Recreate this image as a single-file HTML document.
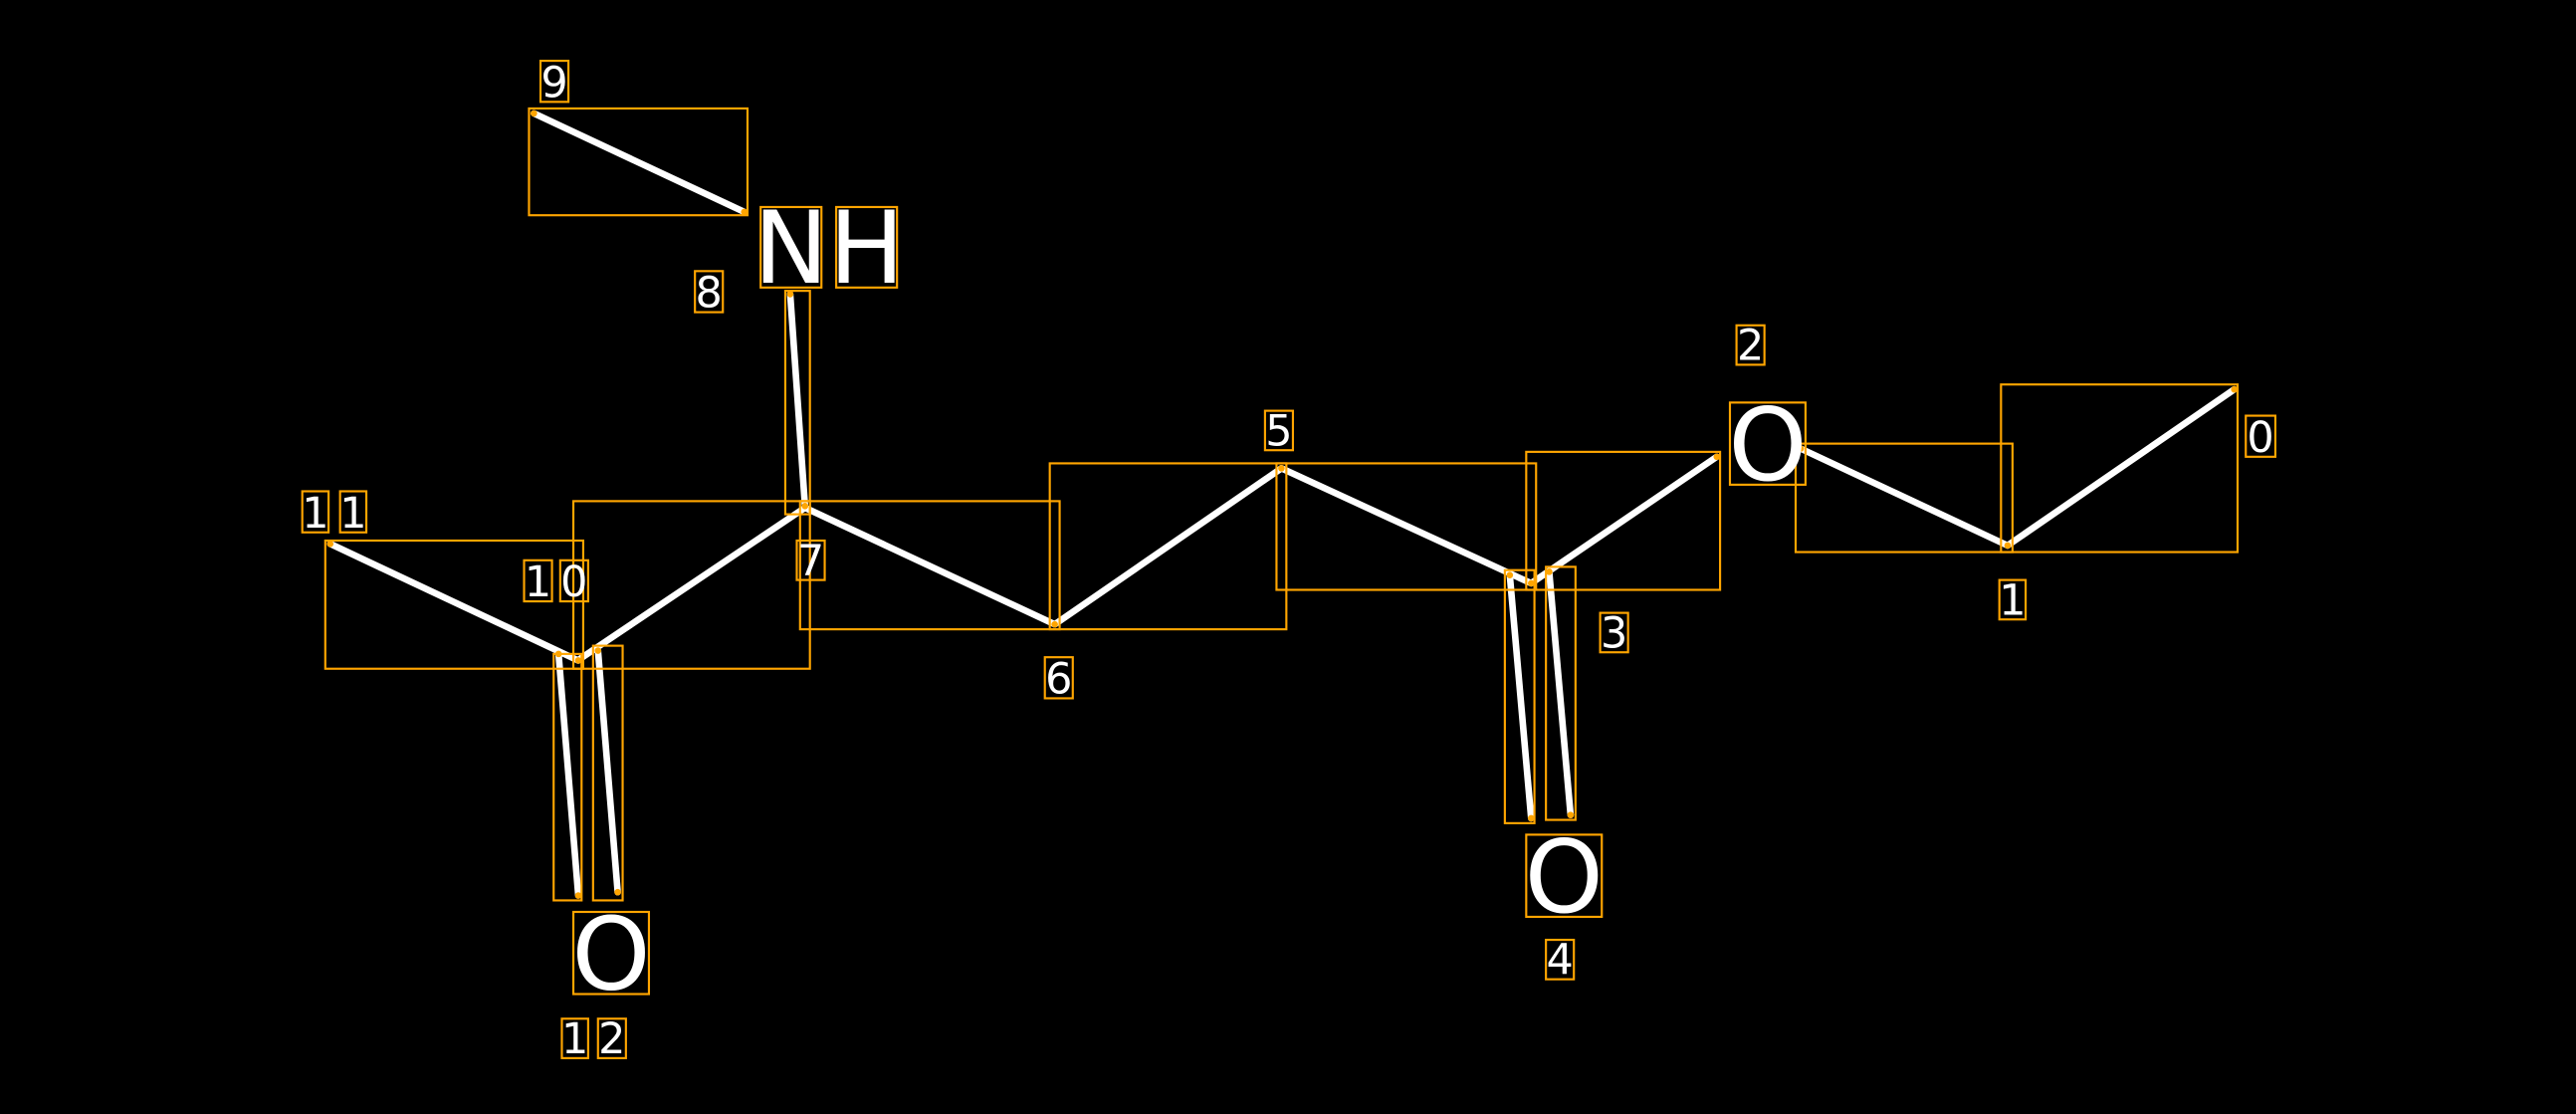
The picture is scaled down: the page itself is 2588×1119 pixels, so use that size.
<!DOCTYPE html>
<html><head><meta charset="utf-8"><style>
html,body{margin:0;padding:0;background:#000;width:2588px;height:1119px;overflow:hidden}
svg{display:block}
text{font-family:"DejaVu Sans","Liberation Sans",sans-serif;fill:#fff}
</style></head><body>
<svg width="2588" height="1119" viewBox="0 0 1568 678" preserveAspectRatio="none">
<rect width="1568" height="678" fill="#000"/>
<g stroke="#fff" stroke-width="4" stroke-linecap="round">
<line x1="325" y1="69" x2="453" y2="129"/>
<line x1="481" y1="179" x2="490" y2="308"/>
<line x1="201" y1="331" x2="352" y2="402"/>
<line x1="353" y1="401" x2="490" y2="309"/>
<line x1="490" y1="309" x2="642" y2="380"/>
<line x1="642" y1="380" x2="780" y2="285"/>
<line x1="780" y1="285" x2="932" y2="355"/>
<line x1="932" y1="355" x2="1045" y2="278"/>
<line x1="919" y1="350" x2="932" y2="498"/>
<line x1="943" y1="348" x2="956" y2="496"/>
<line x1="1096" y1="273" x2="1222" y2="332"/>
<line x1="1222" y1="332" x2="1360" y2="237"/>
<line x1="340" y1="398" x2="352" y2="545"/>
<line x1="364" y1="396" x2="376" y2="543"/>
</g>
<g fill="none" stroke="#ffa500" stroke-width="1.3">
<rect x="322" y="66" width="133" height="65"/>
<rect x="478" y="177" width="15" height="136"/>
<rect x="198" y="329" width="157" height="78"/>
<rect x="349" y="305" width="144" height="102"/>
<rect x="487" y="305" width="158" height="78"/>
<rect x="639" y="282" width="144" height="101"/>
<rect x="777" y="282" width="158" height="77"/>
<rect x="929" y="275" width="118" height="84"/>
<rect x="916" y="347" width="18" height="154"/>
<rect x="941" y="345" width="18" height="154"/>
<rect x="1093" y="270" width="132" height="66"/>
<rect x="1218" y="234" width="144" height="102"/>
<rect x="337" y="398" width="17" height="150"/>
<rect x="361" y="393" width="18" height="155"/>
<rect x="329" y="37" width="17" height="25"/>
<rect x="463" y="126" width="37" height="49"/>
<rect x="509" y="126" width="37" height="49"/>
<rect x="423" y="165" width="17" height="25"/>
<rect x="184" y="299" width="16" height="25"/>
<rect x="207" y="299" width="16" height="25"/>
<rect x="319" y="341" width="17" height="25"/>
<rect x="341" y="341" width="17" height="25"/>
<rect x="485" y="329" width="17" height="24"/>
<rect x="636" y="400" width="17" height="25"/>
<rect x="770" y="250" width="17" height="24"/>
<rect x="974" y="373" width="17" height="24"/>
<rect x="929" y="508" width="46" height="50"/>
<rect x="941" y="572" width="17" height="24"/>
<rect x="1053" y="245" width="46" height="50"/>
<rect x="1057" y="198" width="17" height="24"/>
<rect x="1367" y="253" width="18" height="25"/>
<rect x="1217" y="353" width="16" height="24"/>
<rect x="349" y="555" width="46" height="50"/>
<rect x="342" y="620" width="16" height="24"/>
<rect x="364" y="620" width="17" height="24"/>
</g>
<g fill="#ffa500">
<circle cx="325" cy="69" r="2"/><circle cx="453" cy="129" r="2"/>
<circle cx="481" cy="179" r="2"/><circle cx="490" cy="308" r="2"/>
<circle cx="201" cy="331" r="2"/><circle cx="352" cy="402" r="2"/>
<circle cx="642" cy="380" r="2"/><circle cx="780" cy="285" r="2"/>
<circle cx="932" cy="355" r="2"/><circle cx="1045" cy="278" r="2"/>
<circle cx="919" cy="350" r="2"/><circle cx="932" cy="498" r="2"/>
<circle cx="943" cy="348" r="2"/><circle cx="956" cy="496" r="2"/>
<circle cx="1096" cy="273" r="2"/><circle cx="1222" cy="332" r="2"/><circle cx="1360" cy="237" r="2"/>
<circle cx="340" cy="398" r="2"/><circle cx="352" cy="545" r="2"/>
<circle cx="364" cy="396" r="2"/><circle cx="376" cy="543" r="2"/>
</g>
<g font-size="26">
<text x="337.5" y="59" text-anchor="middle">9</text>
<text x="431.5" y="187" text-anchor="middle">8</text>
<text x="192" y="321" text-anchor="middle">1</text>
<text x="215" y="321" text-anchor="middle">1</text>
<text x="327.5" y="363" text-anchor="middle">1</text>
<text x="349.5" y="363" text-anchor="middle">0</text>
<text x="493.5" y="350" text-anchor="middle">7</text>
<text x="644.5" y="422" text-anchor="middle">6</text>
<text x="778.5" y="271" text-anchor="middle">5</text>
<text x="982.5" y="394" text-anchor="middle">3</text>
<text x="949.5" y="593" text-anchor="middle">4</text>
<text x="1065.5" y="219" text-anchor="middle">2</text>
<text x="1376" y="275" text-anchor="middle">0</text>
<text x="1225" y="374" text-anchor="middle">1</text>
<text x="350" y="641" text-anchor="middle">1</text>
<text x="372.5" y="641" text-anchor="middle">2</text>
</g>
<g font-size="61">
<text x="481.5" y="172" text-anchor="middle">N</text>
<text x="527.5" y="172" text-anchor="middle">H</text>
<text x="952" y="555" text-anchor="middle">O</text>
<text x="1076" y="292" text-anchor="middle">O</text>
<text x="372" y="602" text-anchor="middle">O</text>
</g>
</svg>
</body></html>
